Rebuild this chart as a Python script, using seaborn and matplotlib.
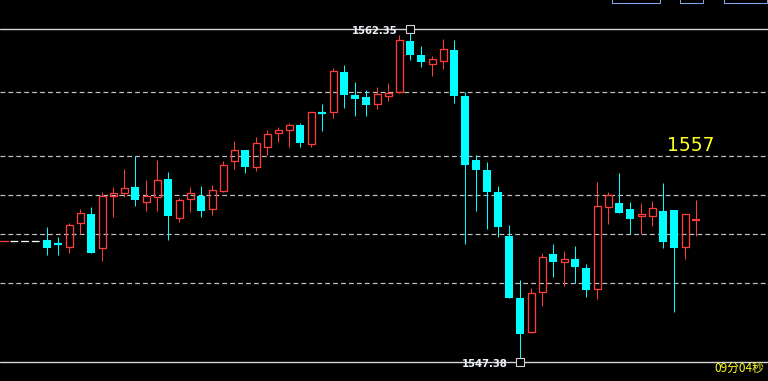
import numpy as np
import pandas as pd
import matplotlib
matplotlib.use("Agg")
import matplotlib.pyplot as plt
import seaborn as sns
from matplotlib.patches import Rectangle

# ---------------- data ----------------
opens = [1552.88, 1552.71, 1552.58, 1553.63, 1554.03, 1552.53, 1554.84, 1555.00, 1555.26, 1554.60,
         1554.80, 1555.62, 1553.85, 1554.71, 1554.86, 1554.26, 1555.07, 1556.42, 1556.92, 1556.17,
         1557.08, 1557.70, 1557.84, 1558.05, 1557.21, 1558.58, 1558.65, 1560.43, 1559.40, 1559.31,
         1559.01, 1559.37, 1559.55, 1561.82, 1561.18, 1560.80, 1560.94, 1561.42, 1559.35, 1556.47,
         1556.02, 1555.04, 1553.06, 1550.27, 1548.76, 1550.53, 1552.24, 1551.88, 1552.02, 1551.61,
         1550.66, 1554.35, 1554.54, 1554.26, 1553.94, 1553.97, 1554.18, 1554.23, 1552.58, 1553.78]
closes = [1552.53, 1552.69, 1553.54, 1554.08, 1552.31, 1554.87, 1554.98, 1555.20, 1554.69, 1554.86,
          1555.56, 1553.97, 1554.66, 1554.98, 1554.20, 1555.11, 1556.24, 1556.91, 1556.17, 1557.23,
          1557.64, 1557.81, 1558.05, 1557.24, 1558.62, 1558.56, 1560.48, 1559.41, 1559.23, 1558.96,
          1559.44, 1559.50, 1561.86, 1561.21, 1560.89, 1561.00, 1561.45, 1559.35, 1556.25, 1556.02,
          1555.04, 1553.46, 1550.28, 1548.67, 1550.48, 1552.10, 1551.90, 1552.01, 1551.68, 1550.64,
          1554.39, 1554.89, 1554.11, 1553.84, 1554.03, 1554.30, 1552.80, 1552.53, 1554.05, 1553.80]
highs = [1553.46, 1553.00, 1553.64, 1554.27, 1554.36, 1555.04, 1555.26, 1556.07, 1556.65, 1555.58,
         1556.47, 1555.94, 1554.75, 1555.26, 1555.31, 1555.35, 1556.42, 1557.33, 1556.93, 1557.50,
         1557.81, 1557.96, 1558.14, 1558.12, 1558.62, 1558.99, 1560.61, 1560.75, 1559.98, 1559.62,
         1559.76, 1559.94, 1562.09, 1562.35, 1561.60, 1561.15, 1561.91, 1561.88, 1559.52, 1556.70,
         1556.37, 1555.31, 1553.54, 1551.08, 1550.72, 1552.28, 1552.70, 1552.38, 1552.59, 1551.79,
         1555.49, 1555.04, 1555.89, 1554.59, 1554.54, 1554.63, 1555.44, 1554.23, 1554.05, 1554.68]
lows = [1552.22, 1552.22, 1552.31, 1553.13, 1552.31, 1551.95, 1553.93, 1554.82, 1554.41, 1554.20,
        1554.20, 1552.89, 1553.70, 1554.15, 1553.93, 1554.02, 1555.02, 1556.08, 1555.90, 1555.99,
        1556.71, 1557.28, 1557.07, 1557.07, 1557.07, 1557.78, 1558.38, 1558.83, 1558.47, 1558.47,
        1558.78, 1559.13, 1559.49, 1560.98, 1560.66, 1560.25, 1560.58, 1559.04, 1552.70, 1554.20,
        1553.37, 1553.03, 1550.28, 1547.38, 1548.70, 1549.92, 1551.23, 1550.82, 1550.93, 1550.33,
        1550.24, 1553.61, 1554.11, 1553.13, 1553.13, 1553.52, 1552.53, 1549.66, 1552.04, 1553.07]
level_lines = [1559.52, 1556.64, 1554.89, 1553.13, 1550.93]
prev_close = 1552.82
high_label = "1562.35"
low_label = "1547.38"
price_text = "1557"
timer_text = "09分04秒"

# ---------------- style ----------------
RED = "#ff3c3c"
CYAN = "#00ffff"
GRID = "#c4c4c4"
SOLID = "#d6d6d6"
PX = 0.72  # one pixel in points at 100 dpi

sns.set_theme(style="dark", rc={"axes.facecolor": "black", "figure.facecolor": "black",
                                "savefig.facecolor": "black"})
plt.rcParams["font.family"] = ["DejaVu Sans", "Noto Sans CJK SC"]

df = pd.DataFrame({"open": opens, "close": closes, "high": highs, "low": lows})
df["idx"] = np.arange(len(df))

fig = plt.figure(figsize=(7.68, 3.81), dpi=100)
ax = fig.add_axes([0, 0, 1, 1])
ax.set_facecolor("black")
ax.set_xlim(-4.3, 65.52)
ax.set_ylim(1546.54, 1563.67)
ax.axis("off")

# level lines
for lv in level_lines:
    ax.axhline(lv, color=GRID, lw=1.2 * PX, dashes=(4.0, 2.6), zorder=1)

hi = df["high"].max()
lo = df["low"].min()
ax.axhline(hi, color=SOLID, lw=1.4 * PX, zorder=1)
ax.axhline(lo, color=SOLID, lw=1.4 * PX, zorder=1)

# previous close stub on the left
ax.plot([-4.3, -3.57], [prev_close, prev_close], color=RED, lw=1.3 * PX, zorder=2)
ax.plot([-3.39, -0.57], [prev_close, prev_close], color="white", lw=1.3 * PX,
        dashes=(6.0, 2.2), zorder=2)

# candles
bw = 0.76
for _, r in df.iterrows():
    i, o, c, h, l = r["idx"], r["open"], r["close"], r["high"], r["low"]
    up = c > o
    col = RED if up else CYAN
    top, bot = max(o, c), min(o, c)
    if abs(c - o) < 0.03:
        ax.vlines(i, l, h, color=col, lw=1.0 * PX, zorder=3)
        ax.hlines(o, i - bw / 2, i + bw / 2, color=col, lw=2.2 * PX, zorder=4)
        continue
    if up:
        if h > top:
            ax.vlines(i, top, h, color=col, lw=1.0 * PX, zorder=3)
        if l < bot:
            ax.vlines(i, l, bot, color=col, lw=1.0 * PX, zorder=3)
        ax.bar(i, top - bot, bottom=bot, width=bw - 0.08, facecolor="none",
               edgecolor=col, lw=1.3 * PX, zorder=4)
    else:
        ax.vlines(i, l, h, color=col, lw=1.0 * PX, zorder=3)
        ax.bar(i, top - bot, bottom=bot, width=bw, color=col, lw=0, zorder=4)

# extreme markers
i_hi = int(df["high"].idxmax())
i_lo = int(df["low"].idxmin())
sns.scatterplot(x=[i_hi, i_lo], y=[hi, lo], marker="s", s=28, color="black",
                edgecolor="#d0d0d0", linewidth=0.8, zorder=6, ax=ax, legend=False)
for xi, yv, lab in [(i_hi, hi, high_label), (i_lo, lo, low_label)]:
    ax.annotate(lab, xy=(xi, yv), xytext=(-13 * PX, -1), textcoords="offset points",
                ha="right", va="center", color="#eef2f8", fontsize=8, fontweight="bold",
                fontstretch="condensed", zorder=7)

# yellow texts
ax.text(691 / 768, 1 - 145 / 381, price_text, transform=ax.transAxes, color="#ffff22",
        fontsize=13.5, ha="center", va="center", zorder=7)
ax.text(764 / 768, 1 - 368 / 381, timer_text, transform=ax.transAxes, color="#ffff22",
        fontsize=8.5, ha="right", va="center", family=["Noto Sans CJK SC", "DejaVu Sans"],
        zorder=7)

# cut-off toolbar items at the top right
for x0, w in [(612, 48), (680, 23), (724, 43)]:
    fig.add_artist(Rectangle((x0 / 768, 1 - 3 / 381), w / 768, 0.05, fill=False,
                             edgecolor="#7fa8e8", lw=1.0 * PX, transform=fig.transFigure))

fig.savefig("out.png", dpi=100, facecolor="black")
